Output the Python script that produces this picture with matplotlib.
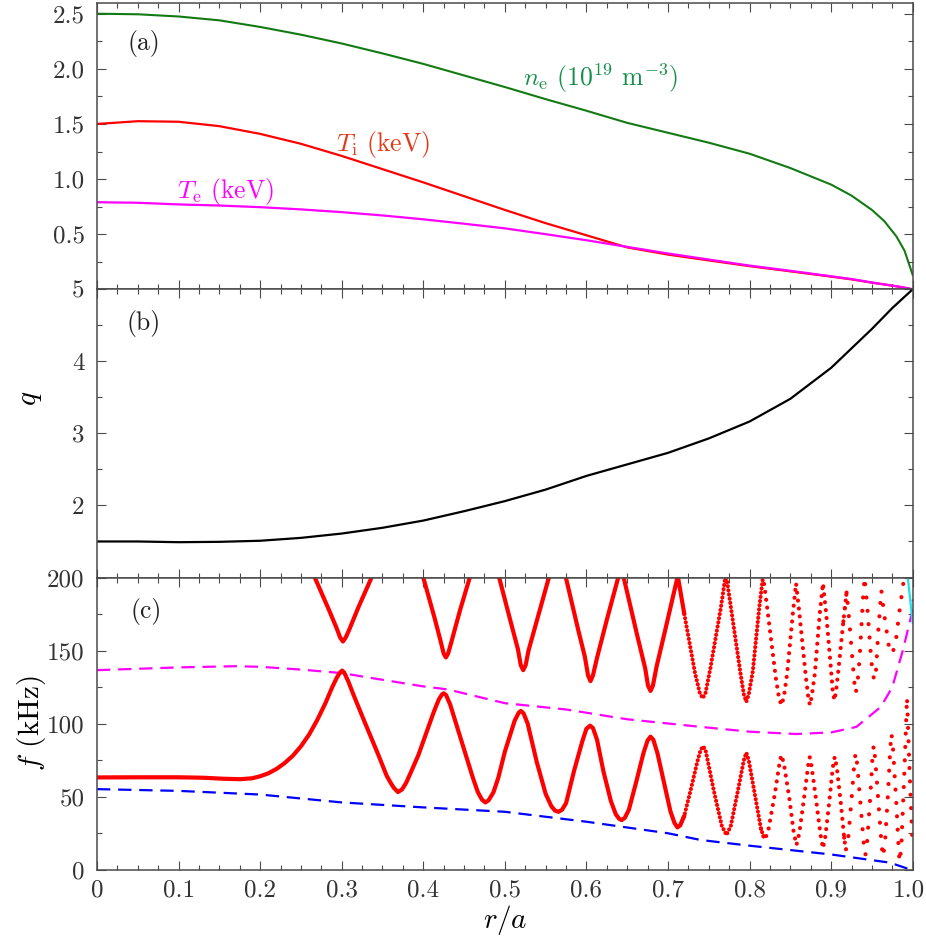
import numpy as np
import matplotlib
matplotlib.use("Agg")
import matplotlib.pyplot as plt
import matplotlib.transforms as mtransforms
from matplotlib.ticker import MultipleLocator

plt.rcParams["font.family"] = "serif"
plt.rcParams["font.serif"] = ["cmr10"]
plt.rcParams["mathtext.fontset"] = "cm"
plt.rcParams["axes.unicode_minus"] = False

# ---------------- panel (a): profiles ----------------
r_prof = [0, 0.05, 0.1, 0.15, 0.2, 0.25, 0.3, 0.35, 0.4, 0.45, 0.5, 0.55,
          0.6, 0.65, 0.7, 0.75, 0.8, 0.85, 0.9, 0.925, 0.95, 0.965, 0.98,
          0.99, 1.0]
ne = [2.50, 2.495, 2.475, 2.44, 2.38, 2.31, 2.23, 2.14, 2.045, 1.94, 1.835,
      1.725, 1.62, 1.51, 1.42, 1.33, 1.23, 1.10, 0.95, 0.85, 0.72, 0.62, 0.48,
      0.35, 0.13]
Ti = [1.50, 1.525, 1.52, 1.48, 1.41, 1.32, 1.21, 1.09, 0.97, 0.845, 0.72, 0.60,
      0.49, 0.38, 0.315, 0.262, 0.21, 0.163, 0.115, 0.09, 0.06, 0.044, 0.027,
      0.014, 0.0]
Te = [0.79, 0.785, 0.77, 0.76, 0.745, 0.725, 0.70, 0.67, 0.635, 0.595, 0.553,
      0.50, 0.445, 0.385, 0.325, 0.27, 0.215, 0.168, 0.118, 0.093, 0.062, 0.045,
      0.028, 0.015, 0.0]

# ---------------- panel (b): safety factor ----------------
r_q = [0, 0.05, 0.1, 0.15, 0.2, 0.25, 0.3, 0.35, 0.4, 0.45, 0.5, 0.55, 0.6,
       0.65, 0.7, 0.75, 0.8, 0.85, 0.9, 0.925, 0.95, 0.975, 1.0]
q = [1.50, 1.50, 1.49, 1.495, 1.51, 1.55, 1.61, 1.69, 1.79, 1.92, 2.06, 2.22,
     2.41, 2.57, 2.73, 2.93, 3.165, 3.48, 3.91, 4.18, 4.45, 4.74, 5.0]

# ---------------- panel (c): frequencies ----------------
r_gap_top = [0, 0.1, 0.17, 0.2, 0.25, 0.3, 0.35, 0.4, 0.43, 0.5, 0.575, 0.65,
             0.74, 0.8, 0.857, 0.9, 0.931, 0.961, 0.975, 0.988, 0.999, 1.0]
f_gap_top = [136.6, 138.5, 139.3, 138.9, 137.0, 134.6, 130.0, 125.5, 123.4,
             114.0, 109.7, 103.0, 97.8, 94.5, 92.9, 94.0, 97.8, 111.5, 125.0,
             150.3, 175.6, 185.0]
r_gap_bot = [0, 0.1, 0.2, 0.3, 0.4, 0.5, 0.6, 0.7, 0.74, 0.8, 0.9, 0.914,
             0.972, 0.998]
f_gap_bot = [55.2, 54.0, 51.5, 46.1, 42.7, 39.7, 32.9, 25.0, 20.4, 16.5, 10.5,
             9.4, 4.9, 0.0]

r_low = [0, 0.05, 0.1, 0.13, 0.155, 0.1755, 0.19, 0.2, 0.21, 0.22, 0.23, 0.24,
         0.25, 0.26, 0.27, 0.28, 0.288, 0.294, 0.298, 0.3005, 0.303, 0.308,
         0.315, 0.326, 0.345, 0.355, 0.36, 0.364, 0.369, 0.374, 0.379, 0.385,
         0.394, 0.413, 0.419, 0.423, 0.425, 0.428, 0.433, 0.447, 0.461, 0.467,
         0.472, 0.476, 0.48, 0.486, 0.492, 0.5, 0.512, 0.517, 0.5196, 0.523,
         0.528, 0.539, 0.55, 0.557, 0.5615, 0.5657, 0.57, 0.575, 0.585, 0.595,
         0.6, 0.6045, 0.608, 0.613, 0.621, 0.63, 0.636, 0.64, 0.643, 0.647,
         0.652, 0.661, 0.67, 0.675, 0.6786, 0.682, 0.687, 0.695, 0.703, 0.708,
         0.7116, 0.715, 0.72, 0.728, 0.736, 0.74, 0.743, 0.746,
         0.757, 0.766, 0.7717, 0.777, 0.786, 0.793, 0.796, 0.799, 0.807, 0.814,
         0.8186, 0.823, 0.831, 0.837, 0.839, 0.842, 0.849, 0.854, 0.8575,
         0.861, 0.867, 0.872, 0.8738, 0.876, 0.882, 0.887, 0.890, 0.893, 0.898,
         0.902, 0.9044, 0.907, 0.912, 0.916, 0.918, 0.921, 0.925, 0.928, 0.930,
         0.932, 0.936, 0.940, 0.942, 0.944, 0.948, 0.9505, 0.9522, 0.954,
         0.958, 0.962, 0.9636, 0.966, 0.970, 0.9725, 0.974, 0.976, 0.980,
         0.983, 0.984, 0.986, 0.990, 0.993, 0.996, 1.0]
f_low = [63.2, 63.3, 63.3, 63.0, 62.3, 62.0, 62.6, 64.0, 66.0, 69.0, 73.0, 78.0,
         84.5, 92.5, 102.5, 114.0, 124.5, 131.5, 135.0, 136.3, 135.0, 129.0,
         119.0, 104.0, 78.5, 64.5, 59.5, 56.0, 53.2, 55.0, 59.5, 67.0,
         78.5, 108.2, 116.5, 120.0, 120.8, 119.5, 113.0, 87.7, 62.6, 53.0,
         48.0, 46.1, 47.5, 53.0, 63.0, 80.8, 102.0, 107.5, 108.7, 107.0,
         100.0, 74.0, 52.0, 43.5, 40.5, 39.7, 41.0, 45.5, 68.0, 88.0,
         96.5, 98.6, 97.0, 89.0, 67.0, 47.0, 38.0, 35.0, 34.0, 35.5,
         41.0, 60.0, 80.0, 88.5, 91.1, 89.0, 80.0, 60.0, 40.0, 32.0,
         29.0, 30.5, 37.0, 55.0, 74.0, 82.0, 84.5, 82.0,
         52.0, 30.0, 23.8, 30.0, 55.0, 75.0, 80.1, 75.0, 50.0, 28.0,
         20.4, 27.0, 52.0, 74.0, 78.5, 73.0, 48.0, 26.0, 17.0,
         25.0, 50.0, 72.0, 77.0, 71.0, 46.0, 24.0, 14.7, 23.0, 48.0,
         70.0, 77.3, 70.0, 45.0, 22.0, 13.5, 22.0, 48.0, 70.0, 80.1,
         72.0, 45.0, 18.0, 10.1, 18.0, 50.0, 75.0, 85.3, 76.0,
         46.0, 16.0, 9.0, 18.0, 55.0, 83.0, 93.3, 82.0, 45.0,
         12.0, 5.5, 15.0, 70.0, 118.0, 70.0, 15.0]

nan = np.nan
r_up = [0.267, 0.285, 0.294, 0.298, 0.3015, 0.305, 0.309, 0.32, 0.3366, nan,
        0.400, 0.414, 0.421, 0.425, 0.4277, 0.4305, 0.435, 0.445, 0.457, nan,
        0.493, 0.507, 0.516, 0.5195, 0.5225, 0.5255, 0.529, 0.54, 0.554, nan,
        0.5748, 0.59, 0.598, 0.602, 0.605, 0.608, 0.613, 0.625, 0.639, 0.642,
        0.6457, 0.662, 0.672, 0.6755, 0.6786, 0.6815, 0.686, 0.697, 0.712,
        0.72, 0.733, 0.739, 0.7426, 0.746, 0.752, 0.765, 0.771, 0.777, 0.789,
        0.793, 0.796, 0.799, 0.804, 0.812, 0.8166, 0.821, 0.832, 0.836, 0.839,
        0.842, 0.846, 0.853, 0.857, 0.861, 0.869, 0.872, 0.874, 0.876, 0.880,
        0.886, 0.890, 0.894, 0.900, 0.902, 0.904, 0.906, 0.909, 0.915, 0.919,
        0.922, 0.927, 0.929, 0.930, 0.932, 0.935, 0.939, 0.941, 0.944, 0.949,
        0.951, 0.953, 0.955, 0.958, 0.9616, 0.965, 0.971, 0.975, 0.979, 0.984,
        0.990]
f_up = [200, 177, 165, 159, 156.2, 159, 164, 179, 200, nan,
        200, 172, 157, 148, 145.3, 148, 157, 177.5, 200, nan,
        200, 170, 151, 140, 136.6, 140, 150, 172, 200, nan,
        200, 164, 146, 133, 129.1, 133, 145, 171, 200, 205,
        200, 161, 138, 126, 122.4, 126, 139, 165, 201,
        175, 135, 121, 117.4, 121, 138, 180, 203, 180, 134,
        120, 115, 120, 136, 180, 201, 182, 132, 118, 112.7,
        118, 134, 175, 196, 176, 132, 118, 112.7, 118, 134,
        175, 196, 175, 136, 122, 116, 122, 137, 170, 190,
        172, 138, 125, 120.7, 126, 145, 185, 200, 182, 145,
        134, 129.8, 136, 165, 191, 175, 152, 148, 155, 178,
        202]

r_cyan = [0.994, 1.0]
f_cyan = [200, 169]

# ---------------- layout ----------------
W, H = 926, 946
fig = plt.figure(figsize=(W / 100, H / 100), dpi=100)
left = 97 / W
width = (912.7 - 97) / W


def box(top, bottom):
    return [left, 1 - bottom / H, width, (bottom - top) / H]


ax_a = fig.add_axes(box(2.7, 289.3))
ax_b = fig.add_axes(box(289.3, 577.5))
ax_c = fig.add_axes(box(577.5, 869.8))

spine_c = "#4a4a4a"
lab_c = "#333333"
tick_fs = 18
text_fs = 18.5
for ax in (ax_a, ax_b, ax_c):
    ax.set_xlim(0, 1)
    ax.xaxis.set_major_locator(MultipleLocator(0.1))
    ax.xaxis.set_minor_locator(MultipleLocator(0.025))
    ax.tick_params(which="both", direction="in", top=True, right=True,
                   color=spine_c, labelcolor=lab_c, labelsize=tick_fs)
    ax.tick_params(which="major", length=6.5, width=0.8)
    ax.tick_params(which="minor", length=3.5, width=0.8)
    ax.tick_params(axis="y", pad=9)
    ax.tick_params(axis="x", pad=7)
    for s in ax.spines.values():
        s.set_color(spine_c)
        s.set_linewidth(1.1)
    if ax is not ax_c:
        ax.tick_params(labelbottom=False)

# (a)
ax_a.plot(r_prof, ne, color="#137a13", lw=1.5)
ax_a.plot(r_prof, Ti, color="#ff0000", lw=1.6)
ax_a.plot(r_prof, Te, color="#ff00ff", lw=1.6)
ax_a.set_ylim(0, 2.6)
ax_a.set_yticks([0.5, 1.0, 1.5, 2.0, 2.5])
ax_a.set_yticklabels(["0.5", "1.0", "1.5", "2.0", "2.5"])
ax_a.yaxis.set_minor_locator(MultipleLocator(0.25))
ax_a.text(0.6177, 1.914, r"$n_{\rm e}$ (10$^{19}$ m$^{-3}$)", color="#16904a",
          fontsize=text_fs, ha="center", va="center")
ax_a.text(0.351, 1.31, r"$T_{\rm i}$ (keV)", color="#e23a18",
          fontsize=text_fs, ha="center", va="center")
ax_a.text(0.157, 0.886, r"$T_{\rm e}$ (keV)", color="#ff00ff",
          fontsize=text_fs, ha="center", va="center")
ax_a.text(0.037, 0.856, "(a)", transform=ax_a.transAxes, fontsize=text_fs,
          ha="left", va="center", color="#222222")

# (b)
ax_b.plot(r_q, q, color="black", lw=1.6)
ax_b.set_ylim(1, 5)
ax_b.set_yticks([2, 3, 4, 5])
ax_b.set_yticklabels(["2", "3", "4", "5"])
ax_b.yaxis.set_minor_locator(MultipleLocator(0.5))
ax_b.text(0.036, 0.882, "(b)", transform=ax_b.transAxes, fontsize=text_fs,
          ha="left", va="center", color="#222222")

# (c)
ax_c.plot(r_gap_top, f_gap_top, color="#ff00ff", lw=1.6, ls=(0, (6, 3.5)))
ax_c.plot(r_gap_bot, f_gap_bot, color="#0000ff", lw=1.6, ls=(0, (6, 3.5)))

r_low_a = np.array(r_low)
f_low_a = np.array(f_low)
r_up_a = np.array(r_up)
f_up_a = np.array(f_up)
red = "#ff0000"
bands = [(0.0, 0.72, "-"), (0.72, 0.82, (0, (0.01, 1.0))),
         (0.82, 0.92, (0, (0.01, 1.9))), (0.92, 1.01, (0, (0.01, 3.2)))]
for lo, hi, ls in bands:
    for rr, ff in ((r_low_a, f_low_a), (r_up_a, f_up_a)):
        m = (np.nan_to_num(rr, nan=-1) >= lo - 0.006) & (rr <= hi)
        ax_c.plot(np.where(m, rr, np.nan), np.where(m, ff, np.nan), color=red,
                  lw=3.0, ls=ls, dash_capstyle="round",
                  solid_capstyle="round", solid_joinstyle="round")
ax_c.plot(r_cyan, f_cyan, color="#22e0f0", lw=1.6)

ax_c.set_ylim(0, 200)
ax_c.set_yticks([0, 50, 100, 150, 200])
ax_c.set_yticklabels(["0", "50", "100", "150", "200"])
ax_c.yaxis.set_minor_locator(MultipleLocator(25))
ax_c.set_xticks(np.arange(0, 1.01, 0.1))
ax_c.set_xticklabels(["0", "0.1", "0.2", "0.3", "0.4", "0.5", "0.6", "0.7",
                      "0.8", "0.9", "1.0"])
# keep the last tick label inside the canvas
last = ax_c.get_xticklabels()[-1]
last.set_transform(last.get_transform() +
                   mtransforms.ScaledTranslation(-4 / 100, 0, fig.dpi_scale_trans))
ax_c.text(0.0405, 0.883, "(c)", transform=ax_c.transAxes, fontsize=text_fs,
          ha="left", va="center", color="#222222")

fig.text(31 / W, 1 - 398 / H, r"$q$", fontsize=21, rotation=90,
         ha="center", va="center")
fig.text(31 / W, 1 - 723 / H, r"$f$ (kHz)", fontsize=21, rotation=90,
         ha="center", va="center")
fig.text(505 / W, 1 - 920 / H, r"$r/a$", fontsize=21, ha="center", va="center")

fig.savefig("out.png", dpi=100)
